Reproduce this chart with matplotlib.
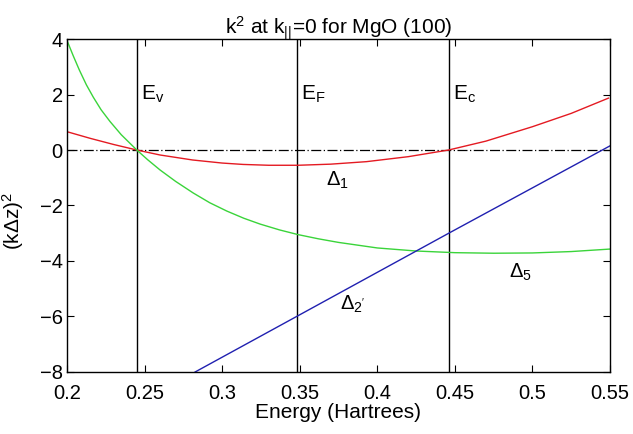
import matplotlib.pyplot as plt

plt.rcParams['font.family'] = 'Liberation Sans'
plt.rcParams['mathtext.fontset'] = 'custom'
plt.rcParams['mathtext.rm'] = 'Liberation Sans'
plt.rcParams['mathtext.it'] = 'Liberation Sans'

# Delta_1 (red)
red_x = [0.200, 0.215, 0.230, 0.245, 0.260, 0.281, 0.300, 0.3135, 0.330, 0.349,
         0.370, 0.393, 0.420, 0.446, 0.470, 0.500, 0.525, 0.549]
red_y = [0.66, 0.42, 0.20, 0.00, -0.18, -0.36, -0.47, -0.52, -0.55, -0.55,
         -0.51, -0.42, -0.24, 0.00, 0.32, 0.84, 1.32, 1.87]

# Delta_5 (green)
green_x = [0.200, 0.204, 0.208, 0.2125, 0.217, 0.222, 0.2277, 0.235, 0.245, 0.252,
           0.260, 0.270, 0.2814, 0.292, 0.303, 0.314, 0.3245, 0.337, 0.349, 0.362,
           0.375, 0.400, 0.425, 0.450, 0.475, 0.500, 0.525, 0.550]
green_y = [3.95, 3.40, 2.88, 2.35, 1.90, 1.45, 1.03, 0.55, 0.00, -0.35,
           -0.72, -1.13, -1.55, -1.90, -2.20, -2.46, -2.67, -2.88, -3.05, -3.20,
           -3.33, -3.53, -3.64, -3.70, -3.72, -3.71, -3.66, -3.57]

# Delta_2' (blue)
blue_x = [0.2826, 0.348, 0.447, 0.550]
blue_y = [-8.0, -6.0, -2.97, 0.15]

# band edges
edges = [0.245, 0.348, 0.446]
edge_labels = ['$\\mathregular{E_v}$', '$\\mathregular{E_F}$', '$\\mathregular{E_c}$']

fig = plt.figure(figsize=(6.33, 4.34), dpi=100)
ax = fig.add_axes([0.1058, 0.1429, 0.8579, 0.7672])

ax.axhline(0, color='black', lw=0.9, ls='-.', dashes=[8, 2, 1, 2])
for e, lab in zip(edges, edge_labels):
    ax.axvline(e, color='black', lw=1.0)
    ax.text(e + 0.003, 2.0, lab, fontsize=15, ha='left', va='center')

ax.plot(red_x, red_y, color='#e41a22', lw=1.0)
ax.plot(green_x, green_y, color='#3ad43a', lw=1.0)
ax.plot(blue_x, blue_y, color='#2020b0', lw=1.0)

ax.text(0.374, -1.1, '$\\mathregular{\\Delta_1}$', fontsize=14.5, ha='center', va='center')
ax.text(0.492, -4.4, '$\\mathregular{\\Delta_5}$', fontsize=14.5, ha='center', va='center')
ax.text(0.384, -5.55, "$\\mathregular{\\Delta_{2'}}$", fontsize=14.5, ha='center', va='center')

ax.set_xlim(0.2, 0.55)
ax.set_ylim(-8, 4)
ax.set_xticks([0.2, 0.25, 0.3, 0.35, 0.4, 0.45, 0.5, 0.55])
ax.set_xticklabels(['0.2', '0.25', '0.3', '0.35', '0.4', '0.45', '0.5', '0.55'])
ax.set_yticks([-8, -6, -4, -2, 0, 2, 4])
ax.tick_params(direction='in', top=True, right=True, labelsize=14.5, length=5)
ax.tick_params(axis='x', pad=9)
ax.tick_params(axis='y', pad=3)
for s in ax.spines.values():
    s.set_linewidth(1.0)

ax.set_xlabel('Energy (Hartrees)', fontsize=15, labelpad=0)
ax.set_ylabel('(k$\\mathregular{\\Delta}$z)$^2$', fontsize=15, labelpad=2)
ax.yaxis.set_label_coords(-0.075, 0.455)
ax.set_title('k$^2$ at k$_{||}$=0 for MgO (100)', fontsize=15, pad=3)

fig.savefig('out.png', dpi=100)
